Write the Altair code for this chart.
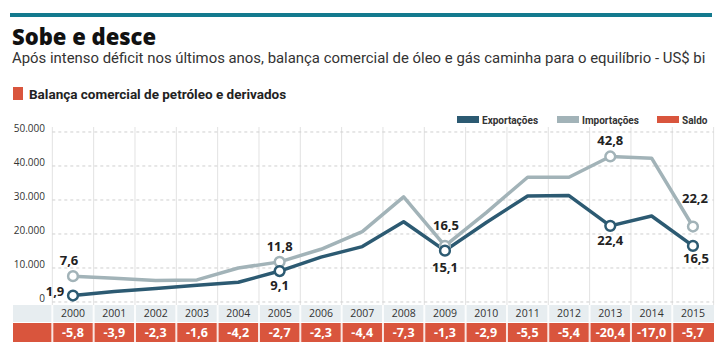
import altair as alt
import pandas as pd

# ---------------- data ----------------
years = list(range(2000, 2016))
exportacoes = [1.9, 3.1, 4.0, 4.9, 5.8, 9.1, 13.2, 16.3, 23.6, 15.1, 23.4, 31.2, 31.3, 22.4, 25.3, 16.5]
importacoes = [7.6, 7.0, 6.3, 6.5, 10.0, 11.8, 15.5, 20.7, 30.9, 16.5, 26.3, 36.7, 36.7, 42.8, 42.3, 22.2]
saldo = [-5.8, -3.9, -2.3, -1.6, -4.2, -2.7, -2.3, -4.4, -7.3, -1.3, -2.9, -5.5, -5.4, -20.4, -17.0, -5.7]
labeled_years = [2000, 2005, 2009, 2013, 2015]
y_ticks = [0, 10, 20, 30, 40, 50]

title = "Sobe e desce"
subtitle = "Após intenso déficit nos últimos anos, balança comercial de óleo e gás caminha para o equilíbrio - US$ bi"
section = "Balança comercial de petróleo e derivados"
series_names = ["Exportações", "Importações", "Saldo"]

# ---------------- styles ----------------
C_EXP = "#2c5a72"
C_IMP = "#a2b3b8"
C_RED = "#d9553d"
C_TEAL = "#137a8e"
FONT = "Roboto"
LFONT = "Open Sans"


def fmt(v):
    return f"{v:.1f}".replace(".", ",")


df = pd.DataFrame({"year": years, "exp": exportacoes, "imp": importacoes, "saldo": saldo})
df["saldo_txt"] = [fmt(v) for v in saldo]
df["exp_txt"] = [fmt(v) for v in exportacoes]
df["imp_txt"] = [fmt(v) for v in importacoes]
df["labeled"] = df["year"].isin(labeled_years)

ticks = pd.DataFrame({"v": y_ticks, "txt": [f"{v * 1000:,}".replace(",", ".") for v in y_ticks]})
bounds = pd.DataFrame({"b": [y - 0.5 for y in years] + [years[-1] + 0.5]})

xs = alt.Scale(domain=[1998.234, 2015.703], nice=False, zero=False)
ys = alt.Scale(domain=[-14.12, 88.82], nice=False, zero=False)

base = alt.Chart(df)

# grid
hgrid = alt.Chart(ticks).mark_rule(color="#cfcfcf", strokeWidth=1, strokeDash=[3, 3]).encode(
    y=alt.Y("v:Q", scale=ys, axis=None),
    x=alt.X(datum=1999.5, scale=xs, axis=None),
    x2=alt.X2(datum=2015.5),
)
vgrid = alt.Chart(bounds).mark_rule(color="#e2e2e2", strokeWidth=1).encode(
    x=alt.X("b:Q", scale=xs, axis=None),
    y=alt.value(127),
    y2=alt.value(305),
)
ylabels = alt.Chart(ticks).mark_text(align="right", baseline="middle", font=LFONT, fontSize=10,
                                     color="#333333", dy=-3).encode(
    y=alt.Y("v:Q", scale=ys, axis=None),
    x=alt.value(45),
    text="txt:N",
)

# lines
imp_line = base.mark_line(color=C_IMP, strokeWidth=3.5, strokeJoin="round").encode(
    x=alt.X("year:Q", scale=xs, axis=None), y=alt.Y("imp:Q", scale=ys, axis=None))
exp_line = base.mark_line(color=C_EXP, strokeWidth=3.5, strokeJoin="round").encode(
    x=alt.X("year:Q", scale=xs, axis=None), y=alt.Y("exp:Q", scale=ys, axis=None))

lab = base.transform_filter("datum.labeled")
imp_pts = lab.mark_point(filled=True, fill="white", stroke=C_IMP, strokeWidth=2.5, size=95, opacity=1).encode(
    x=alt.X("year:Q", scale=xs, axis=None), y=alt.Y("imp:Q", scale=ys, axis=None))
exp_pts = lab.mark_point(filled=True, fill="white", stroke=C_EXP, strokeWidth=2.5, size=95, opacity=1).encode(
    x=alt.X("year:Q", scale=xs, axis=None), y=alt.Y("exp:Q", scale=ys, axis=None))


def val_label(field, txtfield, years_sel, dx, dy):
    sel = "indexof(" + str(years_sel) + ", datum.year) >= 0"
    return base.transform_filter(sel).mark_text(font=LFONT, fontSize=13, fontWeight="bold",
                                                color="#222222", dx=dx, dy=dy).encode(
        x=alt.X("year:Q", scale=xs, axis=None), y=alt.Y(field + ":Q", scale=ys, axis=None),
        text=txtfield + ":N")


labels = [
    val_label("imp", "imp_txt", [2000], -4, -15),
    val_label("imp", "imp_txt", [2005, 2013], 0, -15),
    val_label("imp", "imp_txt", [2009], 1, -20),
    val_label("imp", "imp_txt", [2015], 2, -28),
    val_label("exp", "exp_txt", [2000], -18, -4),
    val_label("exp", "exp_txt", [2005, 2013], 0, 15),
    val_label("exp", "exp_txt", [2009], 0, 17),
    val_label("exp", "exp_txt", [2015], 3, 13),
]

# bottom table
year_row = alt.Chart(pd.DataFrame({"a": [0]})).mark_rect(color="#e7edf0").encode(
    x=alt.value(13), x2=alt.value(714), y=alt.value(305), y2=alt.value(322))
red_row = alt.Chart(pd.DataFrame({"a": [0]})).mark_rect(color=C_RED).encode(
    x=alt.value(13), x2=alt.value(714), y=alt.value(323), y2=alt.value(342))
seps = alt.Chart(bounds).transform_filter("datum.b < 2015").mark_rule(color="white", strokeWidth=2, opacity=0.85).encode(
    x=alt.X("b:Q", scale=xs, axis=None), y=alt.value(305), y2=alt.value(342))
year_txt = base.mark_text(font=LFONT, fontSize=10.5, color="#333333", baseline="middle").encode(
    x=alt.X("year:Q", scale=xs, axis=None), y=alt.value(314), text="year:N")
saldo_txt = base.mark_text(font=LFONT, fontSize=12.5, fontWeight="bold", color="white", baseline="middle").encode(
    x=alt.X("year:Q", scale=xs, axis=None), y=alt.value(333), text="saldo_txt:N")

# header
one = pd.DataFrame({"a": [0]})
top_bar = alt.Chart(one).mark_rect(color=C_TEAL).encode(
    x=alt.value(10), x2=alt.value(712), y=alt.value(13), y2=alt.value(17))
t_title = alt.Chart(one).mark_text(text=title, font=LFONT, fontSize=22, fontWeight=800, color="#111111",
                                   align="left", baseline="alphabetic").encode(x=alt.value(12), y=alt.value(45))
t_sub = alt.Chart(one).mark_text(text=subtitle, font=FONT, fontSize=14.9, color="#333333",
                                 align="left", baseline="alphabetic").encode(x=alt.value(12), y=alt.value(63))
sq = alt.Chart(one).mark_rect(color=C_RED).encode(
    x=alt.value(13), x2=alt.value(23), y=alt.value(87), y2=alt.value(100))
t_sec = alt.Chart(one).mark_text(text=section, font=FONT, fontSize=13.5, fontWeight="bold", color="#222222",
                                 align="left", baseline="alphabetic").encode(x=alt.value(29), y=alt.value(99))

# legend
leg_colors = [C_EXP, C_IMP, C_RED]
leg_x = [457, 557, 657]
leg = []
for name, col, lx in zip(series_names, leg_colors, leg_x):
    leg.append(alt.Chart(one).mark_rect(color=col).encode(
        x=alt.value(lx), x2=alt.value(lx + 22), y=alt.value(116), y2=alt.value(123)))
    leg.append(alt.Chart(one).mark_text(text=name, font=FONT, fontSize=10, fontWeight="bold", color="#333333",
                                        align="left", baseline="alphabetic").encode(
        x=alt.value(lx + 25), y=alt.value(124)))

chart = alt.layer(
    top_bar, t_title, t_sub, sq, t_sec, *leg,
    vgrid, hgrid, ylabels,
    year_row, red_row, seps, year_txt, saldo_txt,
    imp_line, exp_line, imp_pts, exp_pts, *labels,
).properties(
    width=722, height=350, padding=0, autosize=alt.AutoSizeParams(type="none"),
    background="white",
).configure_view(stroke=None)

chart.save("out.html", embed_options={"renderer": "svg", "actions": False})
